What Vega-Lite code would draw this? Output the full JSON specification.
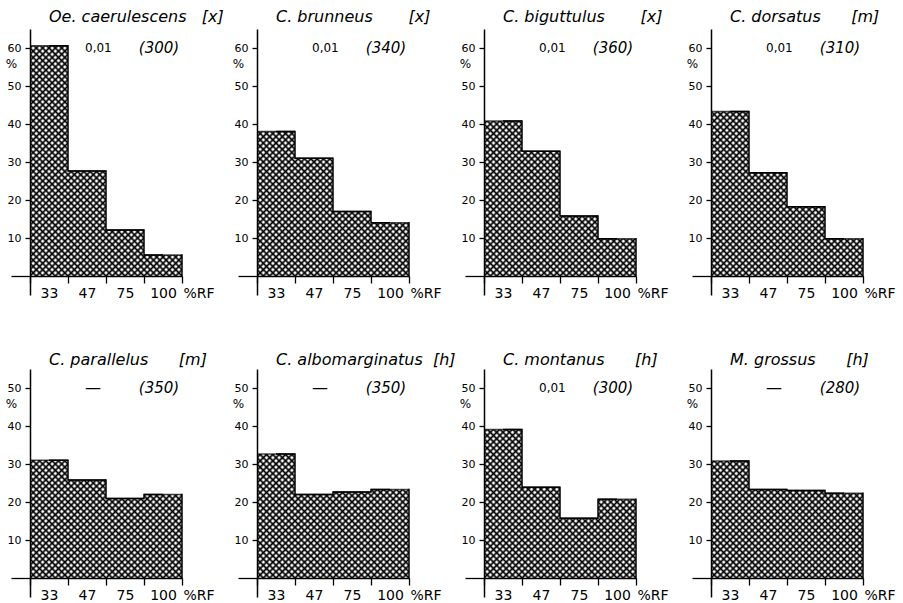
{
"$schema": "https://vega.github.io/schema/vega-lite/v6.json",
"background": "white",
"padding": {"left": 5, "top": 9, "right": 0, "bottom": 0},
"spacing": 52,
"params": [
{"name": "hatchA", "value": {"gradient": "linear", "x1": 0, "y1": 0, "x2": 0.17341, "y2": 1.12717, "stops": [{"offset":0,"color":"#000"},{"offset":0.0085,"color":"#0000"},{"offset":0.0137,"color":"#0000"},{"offset":0.0222,"color":"#000"},{"offset":0.0307,"color":"#0000"},{"offset":0.0359,"color":"#0000"},{"offset":0.0444,"color":"#000"},{"offset":0.0529,"color":"#0000"},{"offset":0.0582,"color":"#0000"},{"offset":0.0667,"color":"#000"},{"offset":0.0752,"color":"#0000"},{"offset":0.0804,"color":"#0000"},{"offset":0.0889,"color":"#000"},{"offset":0.0974,"color":"#0000"},{"offset":0.1026,"color":"#0000"},{"offset":0.1111,"color":"#000"},{"offset":0.1196,"color":"#0000"},{"offset":0.1248,"color":"#0000"},{"offset":0.1333,"color":"#000"},{"offset":0.1418,"color":"#0000"},{"offset":0.1471,"color":"#0000"},{"offset":0.1556,"color":"#000"},{"offset":0.1641,"color":"#0000"},{"offset":0.1693,"color":"#0000"},{"offset":0.1778,"color":"#000"},{"offset":0.1863,"color":"#0000"},{"offset":0.1915,"color":"#0000"},{"offset":0.2,"color":"#000"},{"offset":0.2085,"color":"#0000"},{"offset":0.2137,"color":"#0000"},{"offset":0.2222,"color":"#000"},{"offset":0.2307,"color":"#0000"},{"offset":0.2359,"color":"#0000"},{"offset":0.2444,"color":"#000"},{"offset":0.2529,"color":"#0000"},{"offset":0.2582,"color":"#0000"},{"offset":0.2667,"color":"#000"},{"offset":0.2752,"color":"#0000"},{"offset":0.2804,"color":"#0000"},{"offset":0.2889,"color":"#000"},{"offset":0.2974,"color":"#0000"},{"offset":0.3026,"color":"#0000"},{"offset":0.3111,"color":"#000"},{"offset":0.3196,"color":"#0000"},{"offset":0.3248,"color":"#0000"},{"offset":0.3333,"color":"#000"},{"offset":0.3418,"color":"#0000"},{"offset":0.3471,"color":"#0000"},{"offset":0.3556,"color":"#000"},{"offset":0.3641,"color":"#0000"},{"offset":0.3693,"color":"#0000"},{"offset":0.3778,"color":"#000"},{"offset":0.3863,"color":"#0000"},{"offset":0.3915,"color":"#0000"},{"offset":0.4,"color":"#000"},{"offset":0.4085,"color":"#0000"},{"offset":0.4137,"color":"#0000"},{"offset":0.4222,"color":"#000"},{"offset":0.4307,"color":"#0000"},{"offset":0.4359,"color":"#0000"},{"offset":0.4444,"color":"#000"},{"offset":0.4529,"color":"#0000"},{"offset":0.4582,"color":"#0000"},{"offset":0.4667,"color":"#000"},{"offset":0.4752,"color":"#0000"},{"offset":0.4804,"color":"#0000"},{"offset":0.4889,"color":"#000"},{"offset":0.4974,"color":"#0000"},{"offset":0.5026,"color":"#0000"},{"offset":0.5111,"color":"#000"},{"offset":0.5196,"color":"#0000"},{"offset":0.5248,"color":"#0000"},{"offset":0.5333,"color":"#000"},{"offset":0.5418,"color":"#0000"},{"offset":0.5471,"color":"#0000"},{"offset":0.5556,"color":"#000"},{"offset":0.5641,"color":"#0000"},{"offset":0.5693,"color":"#0000"},{"offset":0.5778,"color":"#000"},{"offset":0.5863,"color":"#0000"},{"offset":0.5915,"color":"#0000"},{"offset":0.6,"color":"#000"},{"offset":0.6085,"color":"#0000"},{"offset":0.6137,"color":"#0000"},{"offset":0.6222,"color":"#000"},{"offset":0.6307,"color":"#0000"},{"offset":0.6359,"color":"#0000"},{"offset":0.6444,"color":"#000"},{"offset":0.6529,"color":"#0000"},{"offset":0.6582,"color":"#0000"},{"offset":0.6667,"color":"#000"},{"offset":0.6752,"color":"#0000"},{"offset":0.6804,"color":"#0000"},{"offset":0.6889,"color":"#000"},{"offset":0.6974,"color":"#0000"},{"offset":0.7026,"color":"#0000"},{"offset":0.7111,"color":"#000"},{"offset":0.7196,"color":"#0000"},{"offset":0.7248,"color":"#0000"},{"offset":0.7333,"color":"#000"},{"offset":0.7418,"color":"#0000"},{"offset":0.7471,"color":"#0000"},{"offset":0.7556,"color":"#000"},{"offset":0.7641,"color":"#0000"},{"offset":0.7693,"color":"#0000"},{"offset":0.7778,"color":"#000"},{"offset":0.7863,"color":"#0000"},{"offset":0.7915,"color":"#0000"},{"offset":0.8,"color":"#000"},{"offset":0.8085,"color":"#0000"},{"offset":0.8137,"color":"#0000"},{"offset":0.8222,"color":"#000"},{"offset":0.8307,"color":"#0000"},{"offset":0.8359,"color":"#0000"},{"offset":0.8444,"color":"#000"},{"offset":0.8529,"color":"#0000"},{"offset":0.8582,"color":"#0000"},{"offset":0.8667,"color":"#000"},{"offset":0.8752,"color":"#0000"},{"offset":0.8804,"color":"#0000"},{"offset":0.8889,"color":"#000"},{"offset":0.8974,"color":"#0000"},{"offset":0.9026,"color":"#0000"},{"offset":0.9111,"color":"#000"},{"offset":0.9196,"color":"#0000"},{"offset":0.9248,"color":"#0000"},{"offset":0.9333,"color":"#000"},{"offset":0.9418,"color":"#0000"},{"offset":0.9471,"color":"#0000"},{"offset":0.9556,"color":"#000"},{"offset":0.9641,"color":"#0000"},{"offset":0.9693,"color":"#0000"},{"offset":0.9778,"color":"#000"},{"offset":0.9863,"color":"#0000"},{"offset":0.9915,"color":"#0000"},{"offset":1,"color":"#000"}]}},
{"name": "hatchB", "expr": "merge(hatchA, {x1: 0, y1: 1, x2: 0.17341, y2: -0.12717})"}
],
"data": {"values": [
{"species":"Oe. caerulescens","title":"Oe. caerulescens\u00a0\u00a0\u00a0[x]","sig":"0,01","n":"(300)","rf":"33","pct":60.6},
{"species":"Oe. caerulescens","title":"Oe. caerulescens\u00a0\u00a0\u00a0[x]","sig":"0,01","n":"(300)","rf":"47","pct":27.6},
{"species":"Oe. caerulescens","title":"Oe. caerulescens\u00a0\u00a0\u00a0[x]","sig":"0,01","n":"(300)","rf":"75","pct":12.1},
{"species":"Oe. caerulescens","title":"Oe. caerulescens\u00a0\u00a0\u00a0[x]","sig":"0,01","n":"(300)","rf":"100","pct":5.5},
{"species":"C. brunneus","title":"C. brunneus\u00a0\u00a0\u00a0\u00a0\u00a0\u00a0\u00a0[x]","sig":"0,01","n":"(340)","rf":"33","pct":38.0},
{"species":"C. brunneus","title":"C. brunneus\u00a0\u00a0\u00a0\u00a0\u00a0\u00a0\u00a0[x]","sig":"0,01","n":"(340)","rf":"47","pct":31.0},
{"species":"C. brunneus","title":"C. brunneus\u00a0\u00a0\u00a0\u00a0\u00a0\u00a0\u00a0[x]","sig":"0,01","n":"(340)","rf":"75","pct":17.0},
{"species":"C. brunneus","title":"C. brunneus\u00a0\u00a0\u00a0\u00a0\u00a0\u00a0\u00a0[x]","sig":"0,01","n":"(340)","rf":"100","pct":14.0},
{"species":"C. biguttulus","title":"C. biguttulus\u00a0\u00a0\u00a0\u00a0\u00a0\u00a0\u00a0[x]","sig":"0,01","n":"(360)","rf":"33","pct":40.8},
{"species":"C. biguttulus","title":"C. biguttulus\u00a0\u00a0\u00a0\u00a0\u00a0\u00a0\u00a0[x]","sig":"0,01","n":"(360)","rf":"47","pct":32.8},
{"species":"C. biguttulus","title":"C. biguttulus\u00a0\u00a0\u00a0\u00a0\u00a0\u00a0\u00a0[x]","sig":"0,01","n":"(360)","rf":"75","pct":15.8},
{"species":"C. biguttulus","title":"C. biguttulus\u00a0\u00a0\u00a0\u00a0\u00a0\u00a0\u00a0[x]","sig":"0,01","n":"(360)","rf":"100","pct":9.8},
{"species":"C. dorsatus","title":"C. dorsatus\u00a0\u00a0\u00a0\u00a0\u00a0\u00a0[m]","sig":"0,01","n":"(310)","rf":"33","pct":43.3},
{"species":"C. dorsatus","title":"C. dorsatus\u00a0\u00a0\u00a0\u00a0\u00a0\u00a0[m]","sig":"0,01","n":"(310)","rf":"47","pct":27.2},
{"species":"C. dorsatus","title":"C. dorsatus\u00a0\u00a0\u00a0\u00a0\u00a0\u00a0[m]","sig":"0,01","n":"(310)","rf":"75","pct":18.2},
{"species":"C. dorsatus","title":"C. dorsatus\u00a0\u00a0\u00a0\u00a0\u00a0\u00a0[m]","sig":"0,01","n":"(310)","rf":"100","pct":9.8},
{"species":"C. parallelus","title":"C. parallelus\u00a0\u00a0\u00a0\u00a0\u00a0\u00a0[m]","sig":"\u2014","n":"(350)","rf":"33","pct":31.0},
{"species":"C. parallelus","title":"C. parallelus\u00a0\u00a0\u00a0\u00a0\u00a0\u00a0[m]","sig":"\u2014","n":"(350)","rf":"47","pct":25.8},
{"species":"C. parallelus","title":"C. parallelus\u00a0\u00a0\u00a0\u00a0\u00a0\u00a0[m]","sig":"\u2014","n":"(350)","rf":"75","pct":20.9},
{"species":"C. parallelus","title":"C. parallelus\u00a0\u00a0\u00a0\u00a0\u00a0\u00a0[m]","sig":"\u2014","n":"(350)","rf":"100","pct":22.0},
{"species":"C. albomarginatus","title":"C. albomarginatus\u00a0\u00a0[h]","sig":"\u2014","n":"(350)","rf":"33","pct":32.6},
{"species":"C. albomarginatus","title":"C. albomarginatus\u00a0\u00a0[h]","sig":"\u2014","n":"(350)","rf":"47","pct":22.0},
{"species":"C. albomarginatus","title":"C. albomarginatus\u00a0\u00a0[h]","sig":"\u2014","n":"(350)","rf":"75","pct":22.6},
{"species":"C. albomarginatus","title":"C. albomarginatus\u00a0\u00a0[h]","sig":"\u2014","n":"(350)","rf":"100","pct":23.3},
{"species":"C. montanus","title":"C. montanus\u00a0\u00a0\u00a0\u00a0\u00a0\u00a0[h]","sig":"0,01","n":"(300)","rf":"33","pct":39.1},
{"species":"C. montanus","title":"C. montanus\u00a0\u00a0\u00a0\u00a0\u00a0\u00a0[h]","sig":"0,01","n":"(300)","rf":"47","pct":23.9},
{"species":"C. montanus","title":"C. montanus\u00a0\u00a0\u00a0\u00a0\u00a0\u00a0[h]","sig":"0,01","n":"(300)","rf":"75","pct":15.7},
{"species":"C. montanus","title":"C. montanus\u00a0\u00a0\u00a0\u00a0\u00a0\u00a0[h]","sig":"0,01","n":"(300)","rf":"100","pct":20.7},
{"species":"M. grossus","title":"M. grossus\u00a0\u00a0\u00a0\u00a0\u00a0\u00a0[h]","sig":"\u2014","n":"(280)","rf":"33","pct":30.8},
{"species":"M. grossus","title":"M. grossus\u00a0\u00a0\u00a0\u00a0\u00a0\u00a0[h]","sig":"\u2014","n":"(280)","rf":"47","pct":23.3},
{"species":"M. grossus","title":"M. grossus\u00a0\u00a0\u00a0\u00a0\u00a0\u00a0[h]","sig":"\u2014","n":"(280)","rf":"75","pct":23.0},
{"species":"M. grossus","title":"M. grossus\u00a0\u00a0\u00a0\u00a0\u00a0\u00a0[h]","sig":"\u2014","n":"(280)","rf":"100","pct":22.3}
]},
"vconcat": [
{
"transform": [{"filter": {"field": "species", "oneOf": ["Oe. caerulescens","C. brunneus","C. biguttulus","C. dorsatus"]}}],
"facet": {"column": {"field": "species", "type": "nominal", "sort": ["Oe. caerulescens","C. brunneus","C. biguttulus","C. dorsatus"], "header": null}},
"spacing": {"column": 75},
"bounds": "flush",
"resolve": {"axis": {"x": "independent", "y": "independent"}},
"spec": {
"width": 152, "height": 266,
"encoding": {"x": {"field": "rf", "type": "ordinal", "sort": ["33","47","75","100"], "scale": {"paddingInner": 0, "paddingOuter": 0},
  "axis": {"title": "%RF", "labelAngle": 0, "tickBand": "extent", "offset": -19, "tickSize": 7, "tickWidth": 1.3, "domainWidth": 1.5, "labelFontSize": 14, "labelPadding": 3, "titleX": 153, "titleY": 21, "titleAlign": "left", "titleBaseline": "alphabetic", "titleFontSize": 14, "titleFontWeight": "normal", "grid": false, "zindex": 1}}},
"layer": [
{"mark": {"type": "bar", "fill": {"expr": "hatchA"}, "clip": true},
 "encoding": {"y": {"datum": 65, "type": "quantitative", "scale": {"domain": [-5, 65]},
   "axis": {"values": [0,10,20,30,40,50,60], "labelExpr": "datum.value == 0 ? '' : datum.label", "tickSize": {"condition": {"test": "datum.value == 0", "value": 19}, "value": 5}, "title": "%", "titleAngle": 0, "titleX": -19, "titleY": 34, "titleAlign": "center", "titleBaseline": "middle", "titleFontSize": 12, "titleFontWeight": "normal", "grid": false, "labelFontSize": 11, "labelPadding": 4, "domainWidth": 1.5, "tickWidth": 1.3, "zindex": 1}},
  "y2": {"datum": 0}}},
{"mark": {"type": "bar", "fill": {"expr": "hatchB"}, "clip": true}, "encoding": {"y": {"datum": 65, "type": "quantitative"}, "y2": {"datum": 0}}},
{"mark": {"type": "bar", "color": "white", "clip": true}, "encoding": {"y": {"field": "pct", "type": "quantitative"}, "y2": {"datum": 65}}},
{"mark": {"type": "tick", "orient": "horizontal", "size": 38, "thickness": 1.5, "color": "black"}, "encoding": {"y": {"field": "pct", "type": "quantitative"}}},
{"mark": {"type": "line", "interpolate": "step", "color": "black", "strokeWidth": 1.5}, "encoding": {"y": {"field": "pct", "type": "quantitative"}}},
{"transform": [{"filter": "datum.rf == '100'"}], "mark": {"type": "rule", "color": "black", "strokeWidth": 1.5, "strokeCap": "square"},
 "encoding": {"x": {"field": "rf", "type": "ordinal", "sort": ["33","47","75","100"], "bandPosition": 1}, "y": {"field": "pct", "type": "quantitative"}, "y2": {"datum": 0}}},
{"transform": [{"filter": "datum.rf == '33'"}], "mark": {"type": "text", "align": "left", "baseline": "alphabetic", "dy": -7, "fontSize": 16, "fontStyle": "italic"},
 "encoding": {"x": {"datum": "33"}, "y": {"datum": 65}, "text": {"field": "title"}}},
{"transform": [{"filter": "datum.rf == '33'"}], "mark": {"type": "text", "align": "left", "baseline": "middle", "dx": -2},
 "encoding": {"x": {"datum": "47"}, "y": {"datum": 60}, "text": {"field": "sig"}, "size": {"condition": {"test": "datum.sig == '\u2014'", "value": 16}, "value": 12}}},
{"transform": [{"filter": "datum.rf == '33'"}], "mark": {"type": "text", "align": "center", "baseline": "middle", "dx": -4, "fontSize": 15, "fontStyle": "italic"},
 "encoding": {"x": {"datum": "100"}, "y": {"datum": 60}, "text": {"field": "n"}}}
]
}
},
{
"transform": [{"filter": {"field": "species", "oneOf": ["C. parallelus","C. albomarginatus","C. montanus","M. grossus"]}}],
"facet": {"column": {"field": "species", "type": "nominal", "sort": ["C. parallelus","C. albomarginatus","C. montanus","M. grossus"], "header": null}},
"spacing": {"column": 75},
"bounds": "flush",
"resolve": {"axis": {"x": "independent", "y": "independent"}},
"spec": {
"width": 152, "height": 228,
"encoding": {"x": {"field": "rf", "type": "ordinal", "sort": ["33","47","75","100"], "scale": {"paddingInner": 0, "paddingOuter": 0},
  "axis": {"title": "%RF", "labelAngle": 0, "tickBand": "extent", "offset": -19, "tickSize": 7, "tickWidth": 1.3, "domainWidth": 1.5, "labelFontSize": 14, "labelPadding": 3, "titleX": 153, "titleY": 21, "titleAlign": "left", "titleBaseline": "alphabetic", "titleFontSize": 14, "titleFontWeight": "normal", "grid": false, "zindex": 1}}},
"layer": [
{"mark": {"type": "bar", "fill": {"expr": "hatchA"}, "clip": true},
 "encoding": {"y": {"datum": 65, "type": "quantitative", "scale": {"domain": [-5, 55]},
   "axis": {"values": [0,10,20,30,40,50], "labelExpr": "datum.value == 0 ? '' : datum.label", "tickSize": {"condition": {"test": "datum.value == 0", "value": 19}, "value": 5}, "title": "%", "titleAngle": 0, "titleX": -19, "titleY": 34, "titleAlign": "center", "titleBaseline": "middle", "titleFontSize": 12, "titleFontWeight": "normal", "grid": false, "labelFontSize": 11, "labelPadding": 4, "domainWidth": 1.5, "tickWidth": 1.3, "zindex": 1}},
  "y2": {"datum": 0}}},
{"mark": {"type": "bar", "fill": {"expr": "hatchB"}, "clip": true}, "encoding": {"y": {"datum": 65, "type": "quantitative"}, "y2": {"datum": 0}}},
{"mark": {"type": "bar", "color": "white", "clip": true}, "encoding": {"y": {"field": "pct", "type": "quantitative"}, "y2": {"datum": 65}}},
{"mark": {"type": "tick", "orient": "horizontal", "size": 38, "thickness": 1.5, "color": "black"}, "encoding": {"y": {"field": "pct", "type": "quantitative"}}},
{"mark": {"type": "line", "interpolate": "step", "color": "black", "strokeWidth": 1.5}, "encoding": {"y": {"field": "pct", "type": "quantitative"}}},
{"transform": [{"filter": "datum.rf == '100'"}], "mark": {"type": "rule", "color": "black", "strokeWidth": 1.5, "strokeCap": "square"},
 "encoding": {"x": {"field": "rf", "type": "ordinal", "sort": ["33","47","75","100"], "bandPosition": 1}, "y": {"field": "pct", "type": "quantitative"}, "y2": {"datum": 0}}},
{"transform": [{"filter": "datum.rf == '33'"}], "mark": {"type": "text", "align": "left", "baseline": "alphabetic", "dy": -4, "fontSize": 16, "fontStyle": "italic"},
 "encoding": {"x": {"datum": "33"}, "y": {"datum": 55}, "text": {"field": "title"}}},
{"transform": [{"filter": "datum.rf == '33'"}], "mark": {"type": "text", "align": "left", "baseline": "middle", "dx": -2},
 "encoding": {"x": {"datum": "47"}, "y": {"datum": 50}, "text": {"field": "sig"}, "size": {"condition": {"test": "datum.sig == '\u2014'", "value": 16}, "value": 12}}},
{"transform": [{"filter": "datum.rf == '33'"}], "mark": {"type": "text", "align": "center", "baseline": "middle", "dx": -4, "fontSize": 15, "fontStyle": "italic"},
 "encoding": {"x": {"datum": "100"}, "y": {"datum": 50}, "text": {"field": "n"}}}
]
}
}
],
"config": {
"font": "DejaVu Sans",
"view": {"stroke": null},
"axis": {"domainColor": "black", "tickColor": "black", "labelColor": "black", "titleColor": "black"},
"text": {"color": "black"}
}
}
